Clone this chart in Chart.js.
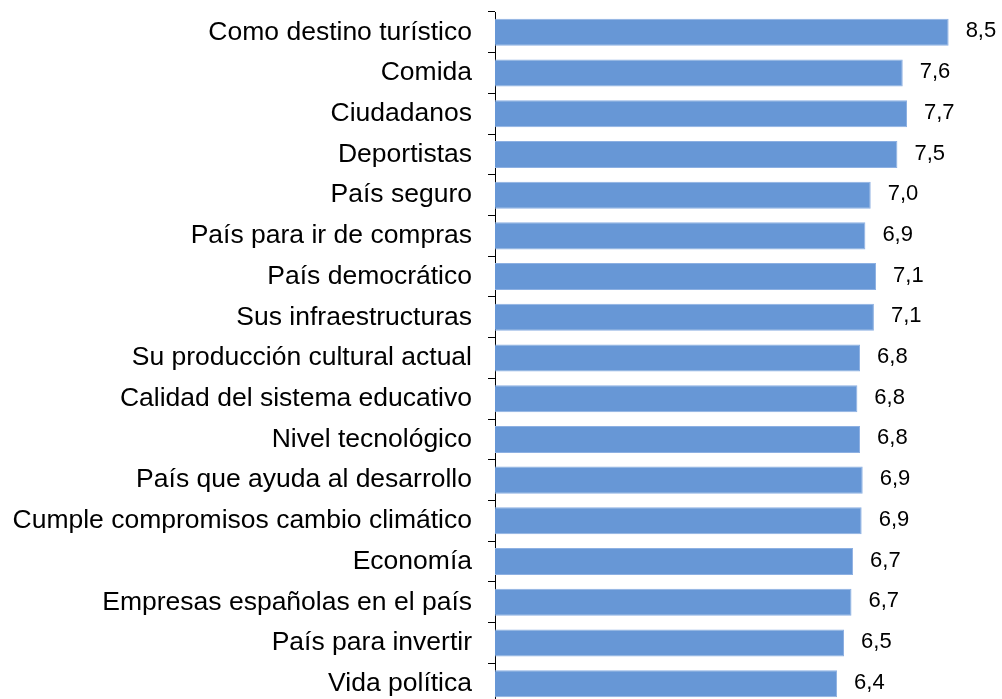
<!DOCTYPE html>
<html lang="es">
<head>
    <meta charset="UTF-8">
    <title>Valoración de España</title>
    <script src="https://cdn.jsdelivr.net/npm/chart.js"></script>
    <style>
        html, body { margin: 0; padding: 0; background: #fff; overflow: hidden; }
        #wrap { width: 1002px; height: 704px; }
    </style>
</head>
<body>
<div id="wrap">
    <canvas id="valChart" width="1002" height="704"></canvas>
</div>
<script>
    const categories = [
        'Como destino turístico',
        'Comida',
        'Ciudadanos',
        'Deportistas',
        'País seguro',
        'País para ir de compras',
        'País democrático',
        'Sus infraestructuras',
        'Su producción cultural actual',
        'Calidad del sistema educativo',
        'Nivel tecnológico',
        'País que ayuda al desarrollo',
        'Cumple compromisos cambio climático',
        'Economía',
        'Empresas españolas en el país',
        'País para invertir',
        'Vida política'
    ];
    const scores = [8.50, 7.64, 7.72, 7.54, 7.04, 6.94, 7.14, 7.10, 6.84, 6.79, 6.84, 6.89, 6.87, 6.71, 6.68, 6.54, 6.41];

    const valueLabels = {
        id: 'valueLabels',
        afterDatasetsDraw(chart) {
            const ctx = chart.ctx;
            const meta = chart.getDatasetMeta(0);
            ctx.save();
            ctx.font = '22px "Liberation Sans", Arial, sans-serif';
            ctx.fillStyle = '#000';
            ctx.textAlign = 'left';
            ctx.textBaseline = 'middle';
            meta.data.forEach((bar, i) => {
                const txt = scores[i].toFixed(1).replace('.', ',');
                ctx.fillText(txt, bar.x + 17, bar.y - 1);
            });
            ctx.restore();
        }
    };

    const ctx = document.getElementById('valChart').getContext('2d');
    new Chart(ctx, {
        type: 'bar',
        data: {
            labels: categories,
            datasets: [{
                data: scores,
                backgroundColor: '#6797D6',
                borderColor: '#8DB0E2',
                borderWidth: 1,
                borderSkipped: 'start',
                barPercentage: 0.664,
                categoryPercentage: 1
            }]
        },
        options: {
            indexAxis: 'y',
            responsive: false,
            animation: false,
            layout: { padding: { top: 12, bottom: 0, left: 0, right: 0 } },
            plugins: {
                legend: { display: false },
                tooltip: { enabled: false }
            },
            scales: {
                x: {
                    display: false,
                    min: 0,
                    max: 9.5
                },
                y: {
                    afterFit(scale) {
                        scale.width = 495;
                        scale.paddingTop = 0;
                        scale.paddingBottom = 0;
                    },
                    grid: {
                        offset: true,
                        drawOnChartArea: false,
                        drawTicks: true,
                        tickLength: 7,
                        color: '#000',
                        lineWidth: 1
                    },
                    border: { display: true, color: '#000', width: 1 },
                    ticks: {
                        padding: 16,
                        color: '#000',
                        font: { family: '"Liberation Sans", Arial, sans-serif', size: 26.5 }
                    }
                }
            }
        },
        plugins: [valueLabels]
    });
</script>
</body>
</html>
